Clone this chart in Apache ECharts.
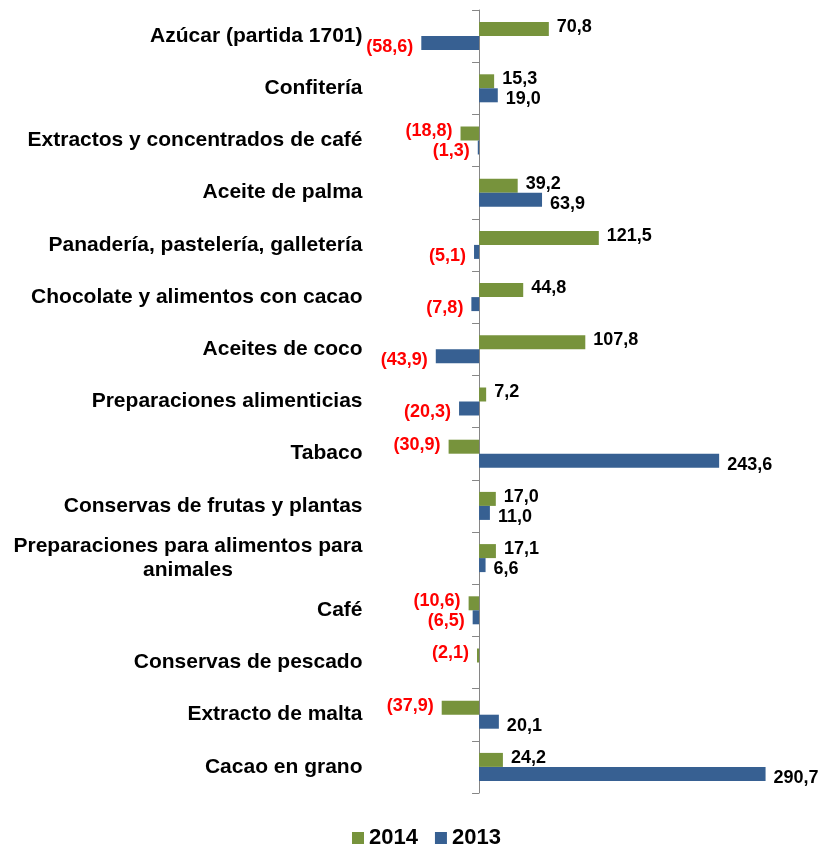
<!DOCTYPE html>
<html>
<head>
<meta charset="utf-8">
<script src="https://cdn.jsdelivr.net/npm/echarts@6/dist/echarts.min.js"></script>
<style>
  html, body { margin: 0; padding: 0; background: #fff; }
  #chart { width: 833px; height: 845px; }
</style>
</head>
<body>
<div id="chart"></div>
<script>
const categories = [
  'Azúcar (partida 1701)',
  'Confitería',
  'Extractos y concentrados de café',
  'Aceite de palma',
  'Panadería, pastelería, galletería',
  'Chocolate y alimentos con cacao',
  'Aceites de coco',
  'Preparaciones alimenticias',
  'Tabaco',
  'Conservas de frutas y plantas',
  'Preparaciones para alimentos para\nanimales',
  'Café',
  'Conservas de pescado',
  'Extracto de malta',
  'Cacao en grano',
]
const values2014 = [70.8, 15.3, -18.8, 39.2, 121.5, 44.8, 107.8, 7.2, -30.9, 17.0, 17.1, -10.6, -2.1, -37.9, 24.2]
const values2013 = [-58.6, 19.0, -1.3, 63.9, -5.1, -7.8, -43.9, -20.3, 243.6, 11.0, 6.6, -6.5, null, 20.1, 290.7]
const legendNames = ['2014', '2013']

const chart = echarts.init(document.getElementById('chart'))

// etiqueta: negativos en rojo entre paréntesis, coma decimal
function labelFor(v) {
  const txt = Math.abs(v).toFixed(1).replace('.', ',')
  return v < 0 ? '{n|(' + txt + ')}' : '{p|' + txt + '}'
}

function toData(arr) {
  return arr.map(v => {
    if (v === null)
      return '-'
    return {
      value: v,
      label: { position: v < 0 ? 'left' : 'right' },
    }
  })
}

function labelStyle(dy) {
  return {
    show: true,
    distance: 8,
    offset: [0, dy],
    formatter: p => labelFor(p.value),
    rich: {
      p: { color: '#000', fontWeight: 'bold', fontSize: 18, fontFamily: 'Liberation Sans' },
      n: { color: '#ff0000', fontWeight: 'bold', fontSize: 18, fontFamily: 'Liberation Sans' },
    },
  }
}

chart.setOption({
  animation: false,
  textStyle: { fontFamily: 'Liberation Sans' },
  grid: { left: 380.5, right: 42.5, top: 10, height: 783, containLabel: false, outerBoundsMode: 'none' },
  legend: {
    data: legendNames,
    left: 347,
    top: 822,
    icon: 'rect',
    itemWidth: 12,
    itemHeight: 12,
    itemGap: 17,
    textStyle: { fontSize: 22, fontWeight: 'bold', color: '#000', fontFamily: 'Liberation Sans' },
  },
  xAxis: {
    type: 'value',
    min: -100,
    max: 316,
    show: false,
  },
  yAxis: {
    type: 'category',
    inverse: true,
    data: categories,
    axisLine: { onZero: true, lineStyle: { color: '#868686', width: 1 } },
    axisTick: { show: true, length: 7, lineStyle: { color: '#868686' } },
    axisLabel: {
      margin: 18,
      color: '#000',
      fontSize: 21,
      fontWeight: 'bold',
      fontFamily: 'Liberation Sans',
      lineHeight: 24,
      formatter: v => v.indexOf('\n') >= 0 ? '{c|' + v + '}' : v,
      rich: {
        c: { align: 'center', fontSize: 21, fontWeight: 'bold', fontFamily: 'Liberation Sans', lineHeight: 24 },
      },
    },
  },
  series: [
    {
      name: '2014',
      type: 'bar',
      data: toData(values2014),
      barWidth: 14,
      barGap: '0%',
      itemStyle: { color: '#77933c' },
      label: labelStyle(-2),
    },
    {
      name: '2013',
      type: 'bar',
      data: toData(values2013),
      barWidth: 14,
      barGap: '0%',
      itemStyle: { color: '#376092' },
      label: labelStyle(4),
    },
  ],
})
</script>
</body>
</html>
